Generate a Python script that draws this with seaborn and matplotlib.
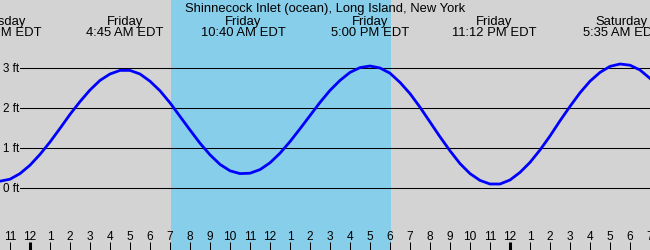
import numpy as np
import pandas as pd
import matplotlib
matplotlib.use("Agg")
import matplotlib.pyplot as plt
import seaborn as sns

# ---- data ----
# hours measured from midnight Thursday->Friday, sampled every half hour
hours = np.arange(-1.5, 31.01, 0.5)
heights = [0.17, 0.22, 0.36, 0.57, 0.84, 1.15, 1.49, 1.84, 2.16, 2.45, 2.69, 2.85, 2.94,
           2.94, 2.85, 2.67, 2.43, 2.13, 1.79, 1.45, 1.12, 0.83, 0.59, 0.43, 0.36,
           0.37, 0.46, 0.63, 0.87, 1.16, 1.48, 1.81, 2.14, 2.44, 2.69, 2.89, 3.01, 3.05,
           3.00, 2.87, 2.64, 2.36, 2.02, 1.65, 1.28, 0.93, 0.61, 0.36, 0.19, 0.10,
           0.10, 0.20, 0.39, 0.64, 0.95, 1.30, 1.68, 2.04, 2.38, 2.67, 2.89, 3.04, 3.10,
           3.07, 2.95, 2.74]

extreme_hours = [-1.55, 4.75, 10.667, 17.0, 23.2, 29.583]
extreme_days = ["Thursday", "Friday", "Friday", "Friday", "Friday", "Saturday"]
extreme_times = ["10:27 PM EDT", "4:45 AM EDT", "10:40 AM EDT", "5:00 PM EDT",
                 "11:12 PM EDT", "5:35 AM EDT"]

sunrise, sunset = 7.05, 18.05
levels = [0, 1, 2, 3]
level_labels = ["0 ft", "1 ft", "2 ft", "3 ft"]

tick_hours = list(range(-1, 32))
tick_labels = ["11", "12", "1", "2", "3", "4", "5", "6", "7", "8", "9", "10", "11",
               "12", "1", "2", "3", "4", "5", "6", "7", "8", "9", "10", "11",
               "12", "1", "2", "3", "4", "5", "6", "7"]
midnights = [0, 24]

title = "Shinnecock Inlet (ocean), Long Island, New York"

# ---- drawing ----
plt.rcParams["font.family"] = ["Liberation Sans", "DejaVu Sans"]

bg = "#d3d3d3"
day = "#87ceeb"

fig = plt.figure(figsize=(6.5, 2.5), dpi=100)
fig.patch.set_facecolor(bg)
ax = fig.add_axes([0, 0, 1, 1])
ax.set_facecolor(bg)

ax.axvspan(sunrise, sunset, color=day, lw=0, zorder=0)
for lv in levels:
    ax.axhline(lv, xmin=20 / 650, xmax=1, color="black", lw=0.75, zorder=1)

df = pd.DataFrame({"hour": hours, "height": heights})
sns.lineplot(data=df, x="hour", y="height", ax=ax, color="#0000ff", lw=2.0,
             zorder=3, legend=False, sort=False, estimator=None)

ax.set_xlim(-1.5, 31)
ax.set_ylim(-1.55, 4.7)
for s in ax.spines.values():
    s.set_visible(False)
ax.set_xlabel("")
ax.set_ylabel("")
ax.set_yticks([])

ax.set_xticks(tick_hours, labels=tick_labels)
ax.tick_params(axis="x", direction="in", length=5.8, width=0.72, pad=-13.5,
               labelsize=8.6, colors="black")
for t, tk in zip(tick_hours, ax.xaxis.get_major_ticks()):
    if t in midnights:
        tk.tick1line.set_markeredgewidth(2.2)

for lv, lab in zip(levels, level_labels):
    ax.text(-0.55, lv - 0.1, lab, ha="right", va="baseline", fontsize=8.4, zorder=4)

xt = ax.get_xaxis_transform()
for h, d, t in zip(extreme_hours, extreme_days, extreme_times):
    ax.text(h, 1 - 25 / 250, d, transform=xt, ha="center", va="baseline", fontsize=9.4)
    ax.text(h, 1 - 36 / 250, t, transform=xt, ha="center", va="baseline", fontsize=9.4)

fig.text(0.5, 1 - 12 / 250, title, ha="center", va="baseline", fontsize=9.4)

fig.savefig("out.png", dpi=100, facecolor=bg)
